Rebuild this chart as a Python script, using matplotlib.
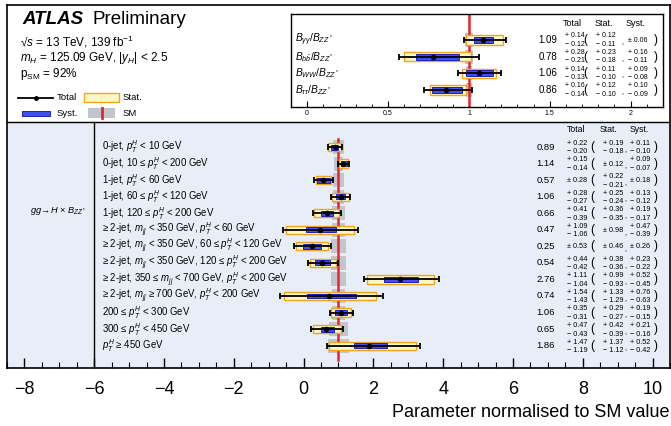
import numpy as np
import matplotlib.pyplot as plt
from matplotlib.patches import Rectangle
from matplotlib.lines import Line2D

plt.rcParams['font.family'] = ['Liberation Sans', 'DejaVu Sans']
plt.rcParams['mathtext.fontset'] = 'custom'
plt.rcParams['mathtext.rm'] = 'Liberation Sans'
plt.rcParams['mathtext.it'] = 'Liberation Sans:italic'
plt.rcParams['mathtext.bf'] = 'Liberation Sans:bold'

# ratios of branching fractions (inset)
ratio_labels = [r'$B_{\gamma\gamma}/B_{ZZ^*}$', r'$B_{b\bar{b}}/B_{ZZ^*}$',
                r'$B_{WW}/B_{ZZ^*}$', r'$B_{\tau\tau}/B_{ZZ^*}$']
ratio_val = [1.09, 0.78, 1.06, 0.86]
ratio_tot_up = [0.14, 0.28, 0.14, 0.16]
ratio_tot_dn = [0.12, 0.21, 0.13, 0.14]
ratio_stat_up = [0.12, 0.23, 0.11, 0.12]
ratio_stat_dn = [0.11, 0.18, 0.10, 0.10]
ratio_syst_up = [0.06, 0.16, 0.09, 0.10]
ratio_syst_dn = [0.06, 0.11, 0.08, 0.09]
ratio_sm_unc = [0.025, 0.025, 0.02, 0.02]

# gg -> H x B_ZZ* STXS bins
bin_labels = [
    r'0-jet, $p_{T}^{H}$ < 10 GeV',
    r'0-jet, 10 ≤ $p_{T}^{H}$ < 200 GeV',
    r'1-jet, $p_{T}^{H}$ < 60 GeV',
    r'1-jet, 60 ≤ $p_{T}^{H}$ < 120 GeV',
    r'1-jet, 120 ≤ $p_{T}^{H}$ < 200 GeV',
    r'≥ 2-jet, $m_{jj}$ < 350 GeV, $p_{T}^{H}$ < 60 GeV',
    r'≥ 2-jet, $m_{jj}$ < 350 GeV, 60 ≤ $p_{T}^{H}$ < 120 GeV',
    r'≥ 2-jet, $m_{jj}$ < 350 GeV, 120 ≤ $p_{T}^{H}$ < 200 GeV',
    r'≥ 2-jet, 350 ≤ $m_{jj}$ < 700 GeV, $p_{T}^{H}$ < 200 GeV',
    r'≥ 2-jet, $m_{jj}$ ≥ 700 GeV, $p_{T}^{H}$ < 200 GeV',
    r'200 ≤ $p_{T}^{H}$ < 300 GeV',
    r'300 ≤ $p_{T}^{H}$ < 450 GeV',
    r'$p_{T}^{H}$ ≥ 450 GeV',
]
bin_val = [0.89, 1.14, 0.57, 1.06, 0.66, 0.47, 0.25, 0.54, 2.76, 0.74, 1.06, 0.65, 1.86]
bin_tot_up = [0.22, 0.15, 0.28, 0.28, 0.41, 1.09, 0.53, 0.44, 1.11, 1.54, 0.35, 0.47, 1.47]
bin_tot_dn = [0.20, 0.14, 0.28, 0.27, 0.39, 1.06, 0.53, 0.42, 1.04, 1.43, 0.31, 0.43, 1.19]
bin_stat_up = [0.19, 0.12, 0.22, 0.25, 0.36, 0.98, 0.46, 0.38, 0.99, 1.33, 0.29, 0.42, 1.37]
bin_stat_dn = [0.18, 0.12, 0.21, 0.24, 0.35, 0.98, 0.46, 0.36, 0.93, 1.29, 0.27, 0.39, 1.12]
bin_syst_up = [0.11, 0.09, 0.18, 0.13, 0.19, 0.47, 0.26, 0.23, 0.52, 0.76, 0.19, 0.21, 0.52]
bin_syst_dn = [0.10, 0.07, 0.18, 0.12, 0.17, 0.39, 0.26, 0.22, 0.45, 0.63, 0.15, 0.16, 0.42]
bin_sm_unc = [0.15, 0.12, 0.15, 0.15, 0.18, 0.20, 0.22, 0.22, 0.22, 0.20, 0.18, 0.26, 0.30]

YELLOW = '#fdf7c4'
ORANGE = '#f5a31a'
BLUE = '#3f4ff0'
DBLUE = '#1c22b8'
GREY = '#c2c6cc'
RED = '#e5262b'
PANEL = '#e8eef7'

W, H = 671, 426
fig = plt.figure(figsize=(W / 100, H / 100), dpi=100)


def fx(x):
    return x / W


def fy(y):
    return 1 - y / H


def pm_text(a, x, y, up, dn, dy, fs):
    """+up/-dn stacked, or a single +- if symmetric"""
    if up == dn:
        a.text(x, y, '± %.2f' % up, fontsize=fs, ha='left', va='center')
    else:
        a.text(x, y - dy, '+ %.2f' % up, fontsize=fs, ha='left', va='center')
        a.text(x, y + dy, '− %.2f' % dn, fontsize=fs, ha='left', va='center')


def draw_rows(a, rows, val, tot_up, tot_dn, stat_up, stat_dn, syst_up, syst_dn, sm_unc,
              h_sm, h_stat, h_syst):
    val = np.array(val)
    sm_unc = np.array(sm_unc)
    a.barh(rows, 2 * sm_unc, left=1 - sm_unc, height=h_sm, color=GREY, zorder=1)
    a.barh(rows, np.add(stat_up, stat_dn), left=val - np.array(stat_dn), height=h_stat,
           color=YELLOW, edgecolor=ORANGE, lw=1.0, zorder=3)
    a.barh(rows, np.add(syst_up, syst_dn), left=val - np.array(syst_dn), height=h_syst,
           color=BLUE, edgecolor=DBLUE, lw=0.7, zorder=4)
    a.errorbar(val, rows, xerr=[tot_dn, tot_up], fmt='o', color='k', ms=3,
               lw=1.3, capsize=2.5, capthick=1.3, zorder=5)


# ---------------- main panel ----------------
ax = fig.add_axes([fx(7), 1 - 368 / H, (670 - 7) / W, (368 - 5) / H])
ax.set_xlim(-8.5, 10.5)
ax.set_ylim(13.35, -8.58)
ax.axhspan(-1.51, 13.35, color=PANEL, zorder=0)
ax.axhline(-1.51, color='k', lw=1.0, zorder=2)
ax.plot([-6, -6], [-1.51, 13.35], color='k', lw=1.0, zorder=2)

rows = np.arange(len(bin_val))
ax.plot([1, 1], [-0.5, 12.85], color=RED, lw=1.8, zorder=2)
draw_rows(ax, rows, bin_val, bin_tot_up, bin_tot_dn, bin_stat_up, bin_stat_dn,
          bin_syst_up, bin_syst_dn, bin_sm_unc, 0.85, 0.5, 0.3)

for i, lab in enumerate(bin_labels):
    ax.text(-5.79, i, lab, fontsize=6.9, ha='left', va='center')
    ax.text(6.93, i, '%.2f' % bin_val[i], fontsize=6.8, ha='center', va='center')
    pm_text(ax, 7.54, i + 0.04, bin_tot_up[i], bin_tot_dn[i], 0.26, 5.2)
    ax.text(8.28, i, '(', fontsize=8.5, ha='center', va='center')
    pm_text(ax, 8.57, i + 0.04, bin_stat_up[i], bin_stat_dn[i], 0.26, 5.2)
    ax.text(9.22, i + 0.2, ',', fontsize=5.5, ha='center', va='center')
    pm_text(ax, 9.34, i + 0.04, bin_syst_up[i], bin_syst_dn[i], 0.26, 5.2)
    ax.text(10.09, i, ')', fontsize=8.5, ha='center', va='center')

ax.text(7.82, -1.03, 'Total', fontsize=6.3, ha='center', va='center')
ax.text(8.74, -1.03, 'Stat.', fontsize=6.3, ha='center', va='center')
ax.text(9.63, -1.03, 'Syst.', fontsize=6.3, ha='center', va='center')
ax.text(-7.85, 3.85, r'$gg\!\rightarrow\!H$ × $B_{ZZ^*}$', fontsize=6.7, ha='left', va='center')

ax.set_xticks(np.arange(-8, 11, 2))
ax.set_xticks(np.arange(-8.5, 10.51, 0.5), minor=True)
ax.tick_params(axis='x', which='major', direction='in', length=7, width=1, labelsize=13, pad=9)
ax.tick_params(axis='x', which='minor', direction='in', length=4, width=0.8)
ax.set_yticks([])
for s in ax.spines.values():
    s.set_linewidth(1.2)
ax.set_xlabel('Parameter normalised to SM value', fontsize=13, loc='right', labelpad=5)

# ---------------- inset ----------------
ins = fig.add_axes([fx(291), 1 - 107 / H, (663 - 291) / W, (107 - 14) / H])
ins.set_xlim(-0.1, 2.2)
ins.set_ylim(4.02, -1.56)
ins.axvline(1, color=RED, lw=1.8, zorder=2)
irows = np.arange(len(ratio_val))
draw_rows(ins, irows, ratio_val, ratio_tot_up, ratio_tot_dn, ratio_stat_up, ratio_stat_dn,
          ratio_syst_up, ratio_syst_dn, ratio_sm_unc, 0.85, 0.55, 0.35)
for i, lab in enumerate(ratio_labels):
    ins.text(-0.074, i, lab, fontsize=7.4, ha='left', va='center')
    ins.text(1.488, i, '%.2f' % ratio_val[i], fontsize=7, ha='center', va='center')
    pm_text(ins, 1.593, i, ratio_tot_up[i], ratio_tot_dn[i], 0.25, 5)
    ins.text(1.722, i, '(', fontsize=8.5, ha='center', va='center')
    pm_text(ins, 1.784, i, ratio_stat_up[i], ratio_stat_dn[i], 0.25, 5)
    ins.text(1.951, i + 0.15, ',', fontsize=5.5, ha='center', va='center')
    pm_text(ins, 1.981, i, ratio_syst_up[i], ratio_syst_dn[i], 0.25, 5)
    ins.text(2.154, i, ')', fontsize=8.5, ha='center', va='center')
ins.text(1.642, -1.02, 'Total', fontsize=6.5, ha='center', va='center')
ins.text(1.833, -1.02, 'Stat.', fontsize=6.5, ha='center', va='center')
ins.text(2.031, -1.02, 'Syst.', fontsize=6.5, ha='center', va='center')
ins.set_xticks([0, 0.5, 1, 1.5, 2])
ins.set_xticklabels(['0', '0.5', '1', '1.5', '2'])
ins.set_xticks(np.arange(0, 2.21, 0.1), minor=True)
ins.tick_params(axis='x', which='major', direction='in', length=4, width=0.8, labelsize=5, pad=2)
ins.tick_params(axis='x', which='minor', direction='in', length=2, width=0.6)
ins.set_yticks([])
for s in ins.spines.values():
    s.set_linewidth(1.0)

# ---------------- header text ----------------
fig.text(fx(22), fy(20), 'ATLAS', fontsize=13.5, fontweight='bold', fontstyle='italic', va='center')
fig.text(fx(93), fy(20), 'Preliminary', fontsize=13.5, va='center')
fig.text(fx(20), fy(42), r'√$s$ = 13 TeV, 139 fb$^{-1}$', fontsize=8.5, va='center')
fig.text(fx(20), fy(58), r'$m_{H}$ = 125.09 GeV, $|y_{H}|$ < 2.5', fontsize=8.5, va='center')
fig.text(fx(20), fy(74), r'p$_{\mathrm{SM}}$ = 92%', fontsize=8.5, va='center')

# ---------------- legend ----------------
fig.add_artist(Line2D([fx(18), fx(53)], [fy(98), fy(98)], color='k', lw=1.3))
fig.add_artist(Line2D([fx(35.5)], [fy(98)], color='k', marker='o', ms=2.5))
fig.add_artist(Rectangle((fx(84), fy(102)), 35 / W, 9 / H, transform=fig.transFigure,
                         fc=YELLOW, ec=ORANGE, lw=1.0))
fig.add_artist(Rectangle((fx(22), fy(116)), 28 / W, 5 / H, transform=fig.transFigure,
                         fc=BLUE, ec=DBLUE, lw=0.7))
fig.add_artist(Rectangle((fx(88), fy(118)), 27 / W, 10 / H, transform=fig.transFigure,
                         fc=GREY, ec='none'))
fig.add_artist(Line2D([fx(101.5), fx(101.5)], [fy(108), fy(118)], color=RED, lw=2))
fig.text(fx(57), fy(98), 'Total', fontsize=6.8, va='center')
fig.text(fx(123), fy(98), 'Stat.', fontsize=6.8, va='center')
fig.text(fx(57), fy(113), 'Syst.', fontsize=6.8, va='center')
fig.text(fx(123), fy(113), 'SM', fontsize=6.8, va='center')

fig.savefig('out.png', dpi=100)
